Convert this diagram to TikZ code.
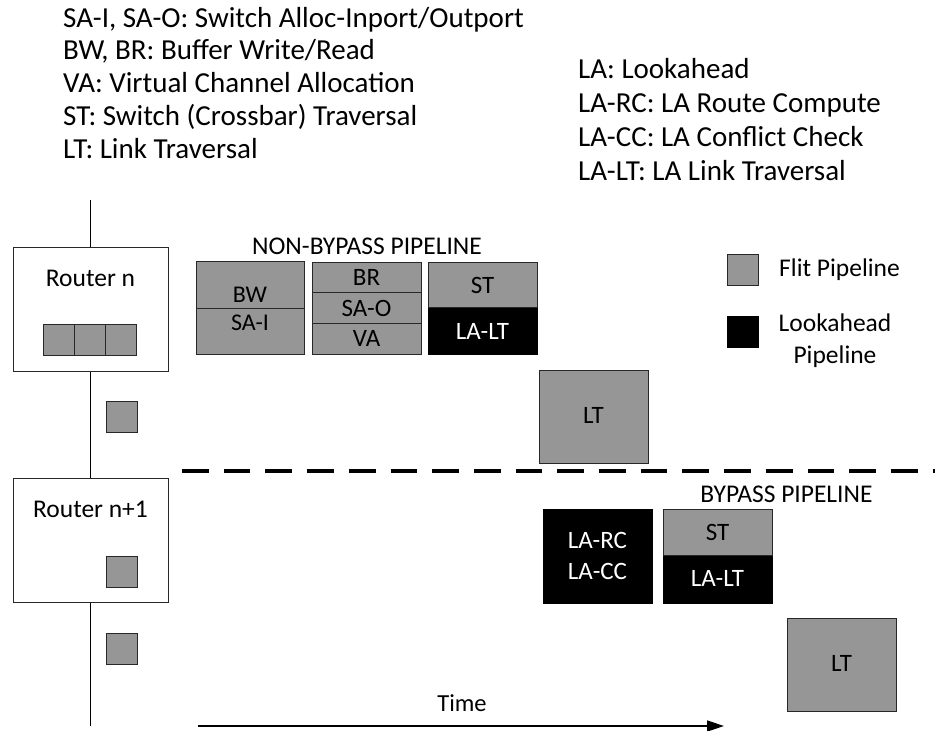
\documentclass[tikz,border=0pt]{standalone}
\usepackage{fontspec}
\setmainfont{Carlito}
\usetikzlibrary{arrows.meta}
\definecolor{flitgray}{RGB}{150,150,150}
\definecolor{edge}{RGB}{40,40,40}
\tikzset{
  toptxt/.style={inner sep=0pt, anchor=base west, font=\fontsize{29}{33}\selectfont},
  bigtxt/.style={inner sep=0pt, font=\fontsize{25.5}{30}\selectfont},
  boxtxt/.style={inner sep=0pt, anchor=base, font=\fontsize{25}{28}\selectfont},
  whitetxt/.style={boxtxt, text=white},
  flitcell/.style={draw=edge, line width=1pt, fill=flitgray},
  lacell/.style={draw=black, line width=1pt, fill=black},
  routerbox/.style={draw=edge, line width=1pt, fill=white},
  wire/.style={draw=black, line width=1.2pt},
}
\begin{document}
\begin{tikzpicture}[x=1pt,y=-1pt]
\useasboundingbox (0,0) rectangle (935,731);
% legend texts top
\foreach \t [count=\i from 0] in {{SA-I, SA-O: Switch Alloc-Inport/Outport},{BW, BR: Buffer Write/Read},{VA: Virtual Channel Allocation},{ST: Switch (Crossbar) Traversal},{LT: Link Traversal}}
  \node[toptxt] (lk\i) at (63,{27+32.75*\i}) {\t};
\node[toptxt] (ra0) at (578,78.5) {LA: Lookahead};
\node[toptxt] (ra1) at (578,112.5) {LA-RC: LA Route Compute};
\node[toptxt] (ra2) at (578,146.5) {LA-CC: LA Conflict Check};
\node[toptxt] (ra3) at (578,180) {LA-LT: LA Link Traversal};

% routers
\node[routerbox, minimum width=155pt, minimum height=124pt, inner sep=0pt] (rn) at (90.5,309) {};
\node[bigtxt, anchor=base] (rntxt) at (90.5,286.7) {Router n};
\node[routerbox, minimum width=155pt, minimum height=124pt, inner sep=0pt] (rn1) at (90.5,540) {};
\node[bigtxt, anchor=base] (rn1txt) at (90.5,517) {Router n+1};
\coordinate (wtop) at (90.5,200);
\coordinate (wbot) at (90.5,726);
\draw[wire] (wtop) -- (rn.north);
\draw[wire] (rn.south) -- (rn1.north);
\draw[wire] (rn1.south) -- (wbot);

% buffer slots and flits
\foreach \i in {0,1,2}
  \draw[flitcell] ({43+31.33*\i},324) rectangle ({43+31.33*(\i+1)},355);
\draw[flitcell] (106,401) rectangle (137,432);
\draw[flitcell] (106,556) rectangle (137,587);
\draw[flitcell] (106,633) rectangle (137,664);

% non-bypass pipeline
\node[bigtxt, anchor=base] (nbp) at (367,254) {NON-BYPASS PIPELINE};
\draw[flitcell] (196,261) rectangle (304,354);
\draw[edge, line width=1pt] (196,308) -- (304,308);
\node[boxtxt, font=\fontsize{24}{28}\selectfont] (bw) at (250,302.3) {BW};
\node[boxtxt, font=\fontsize{24}{28}\selectfont] (sai) at (250,330.7) {SA-I};

\draw[flitcell] (312,262) rectangle (421,354);
\draw[edge, line width=1pt] (312,292) -- (421,292);
\draw[edge, line width=1pt] (312,323) -- (421,323);
\node[boxtxt] (br) at (366.5,285) {BR};
\node[boxtxt] (sao) at (366.5,316.7) {SA-O};
\node[boxtxt] (va) at (366.5,346.7) {VA};

\draw[lacell] (428,307) rectangle (537,354);
\draw[flitcell] (428,262) rectangle (537,307);
\node[boxtxt] (st1) at (482.5,293.3) {ST};
\node[whitetxt] (lalt1) at (482.5,339.3) {LA-LT};

\draw[flitcell] (539,370) rectangle (648,463);
\node[boxtxt] (lt1) at (593.5,423.3) {LT};

% separator
\coordinate (sepl) at (182,471);
\coordinate (sepr) at (935,471);
\draw[line width=3.3pt, dash pattern=on 26.7pt off 15pt] (sepl) -- (sepr);

% bypass pipeline
\node[bigtxt, anchor=base] (bp) at (786.5,502) {BYPASS PIPELINE};
\draw[lacell] (543,509) rectangle (652,603);
\node[whitetxt] (larc) at (597.5,548.3) {LA-RC};
\node[whitetxt] (lacc) at (597.5,579.3) {LA-CC};

\draw[lacell] (663,555) rectangle (772,603);
\draw[flitcell] (663,509) rectangle (772,555);
\node[boxtxt] (st2) at (717.5,540) {ST};
\node[whitetxt] (lalt2) at (717.5,586.7) {LA-LT};

\draw[flitcell] (787,618) rectangle (896,711);
\node[boxtxt] (lt2) at (841.5,671.7) {LT};

% legend
\draw[flitcell] (727,254) rectangle (758,285);
\draw[lacell] (727,316) rectangle (758,347);
\node[bigtxt, anchor=base west] (lgf) at (779,276.7) {Flit Pipeline};
\node[bigtxt, anchor=base] (lgl) at (835,331.7) {Lookahead};
\node[bigtxt, anchor=base] (lgl2) at (835,363) {Pipeline};

% time arrow
\coordinate (ts) at (198,726);
\coordinate (te) at (724,726);
\draw[line width=1.6pt, -{Triangle[length=17pt,width=11pt]}] (ts) -- (te);
\node[bigtxt, anchor=base, font=\fontsize{24.5}{30}\selectfont] (time) at (462,711) {Time};
\end{tikzpicture}
\end{document}
